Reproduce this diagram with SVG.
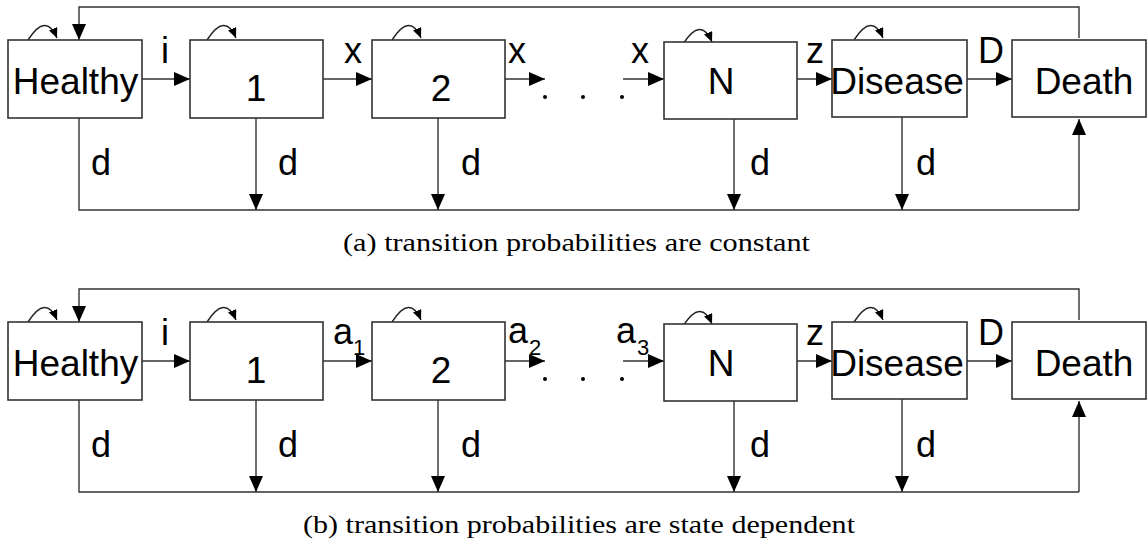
<svg xmlns="http://www.w3.org/2000/svg" width="1148" height="543" viewBox="0 0 1148 543">
<defs>
<marker id="ar" markerUnits="userSpaceOnUse" markerWidth="16" markerHeight="14" refX="16" refY="7" orient="auto" viewBox="0 0 16 14"><path d="M0,0 L16,7 L0,14 z" fill="#000"/></marker>
<marker id="sm" markerUnits="userSpaceOnUse" markerWidth="10" markerHeight="9" refX="10" refY="4.5" orient="auto" viewBox="0 0 10 9"><path d="M0,0 L10,4.5 L0,9 z" fill="#000"/></marker>
<style>
.box{fill:#fff;stroke:#333;stroke-width:1.6}
.ln{fill:none;stroke:#333;stroke-width:1.4}
.arr{fill:none;stroke:#333;stroke-width:1.4;marker-end:url(#ar)}
.loop{fill:none;stroke:#222;stroke-width:1.4;marker-end:url(#sm)}
.big{font-family:"Liberation Sans",Arial,sans-serif;font-size:37px;text-anchor:middle;fill:#000}
.lab{font-family:"Liberation Sans",Arial,sans-serif;font-size:36px;text-anchor:middle;fill:#000}
.sub{font-size:22px}
.cap{font-family:"Liberation Serif","Times New Roman",serif;font-size:25px;fill:#000}
</style>
</defs>

<!-- Panel (a) -->
<g id="panel-a">
<g id="a-connectors">
<path class="arr" d="M1079,38 V7 H79 V40"/>
<path class="ln" d="M79,118 V210 H1079"/>
<path class="arr" d="M1079,210 V119"/>
<path class="arr" d="M142,79 H190"/>
<path class="arr" d="M323,79 H372"/>
<path class="arr" d="M505,79 H545"/>
<path class="arr" d="M623,79 H664"/>
<path class="arr" d="M797,79 H832"/>
<path class="arr" d="M967,79 H1012"/>
<path class="arr" d="M256,118 V210"/>
<path class="arr" d="M438,118 V210"/>
<path class="arr" d="M734,119 V210"/>
<path class="arr" d="M902,117 V210"/>
<path class="loop" d="M28,40 Q46,12 57,38"/>
<path class="loop" d="M207,40 Q225,12 236,38"/>
<path class="loop" d="M392,40 Q410,12 421,38"/>
<path class="loop" d="M683,44 Q701,16 712,42"/>
<path class="loop" d="M854,40 Q872,12 883,38"/>
<circle cx="545" cy="97" r="2" fill="#000"/>
<circle cx="583" cy="97" r="2" fill="#000"/>
<circle cx="622" cy="97" r="2" fill="#000"/>
<text class="lab" x="165" y="63">i</text>
<text class="lab" x="353" y="63">x</text>
<text class="lab" x="517" y="63">x</text>
<text class="lab" x="640" y="63">x</text>
<text class="lab" x="815" y="63">z</text>
<text class="lab" x="991" y="63">D</text>
<text class="lab" x="101" y="175">d</text>
<text class="lab" x="288" y="175">d</text>
<text class="lab" x="471" y="175">d</text>
<text class="lab" x="760" y="175">d</text>
<text class="lab" x="926" y="175">d</text>
</g>
<g id="a-healthy"><rect class="box" x="8" y="40" width="134" height="78"/><text class="big" x="75.5" y="94">Healthy</text></g>
<g id="a-s1"><rect class="box" x="190" y="40" width="133" height="78"/><text class="big" x="256" y="101">1</text></g>
<g id="a-s2"><rect class="box" x="372" y="40" width="133" height="78"/><text class="big" x="441" y="101">2</text></g>
<g id="a-sN"><rect class="box" x="664" y="42" width="133" height="77"/><text class="big" x="721" y="94">N</text></g>
<g id="a-disease"><rect class="box" x="832" y="40" width="135" height="77"/><text class="big" x="897" y="94" font-size="32">Disease</text></g>
<g id="a-death"><rect class="box" x="1012" y="40" width="134" height="77"/><text class="big" x="1084" y="94">Death</text></g>
<text class="cap" x="343" y="251" textLength="467" lengthAdjust="spacingAndGlyphs">(a) transition probabilities are constant</text>
</g>

<!-- Panel (b) -->
<g id="panel-b" transform="translate(0,282)">
<g id="b-connectors">
<path class="arr" d="M1079,38 V7 H79 V40"/>
<path class="ln" d="M79,118 V210 H1079"/>
<path class="arr" d="M1079,210 V119"/>
<path class="arr" d="M142,79 H190"/>
<path class="arr" d="M323,79 H372"/>
<path class="arr" d="M505,79 H545"/>
<path class="arr" d="M623,79 H664"/>
<path class="arr" d="M797,79 H832"/>
<path class="arr" d="M967,79 H1012"/>
<path class="arr" d="M256,118 V210"/>
<path class="arr" d="M438,118 V210"/>
<path class="arr" d="M734,119 V210"/>
<path class="arr" d="M902,117 V210"/>
<path class="loop" d="M28,40 Q46,12 57,38"/>
<path class="loop" d="M207,40 Q225,12 236,38"/>
<path class="loop" d="M392,40 Q410,12 421,38"/>
<path class="loop" d="M683,44 Q701,16 712,42"/>
<path class="loop" d="M854,40 Q872,12 883,38"/>
<circle cx="545" cy="97" r="2" fill="#000"/>
<circle cx="583" cy="97" r="2" fill="#000"/>
<circle cx="622" cy="97" r="2" fill="#000"/>
<text class="lab" x="165" y="63">i</text>
<text class="lab" x="343" y="62">a</text><text class="lab sub" x="359" y="73">1</text>
<text class="lab" x="518" y="61">a</text><text class="lab sub" x="535" y="73">2</text>
<text class="lab" x="626" y="61">a</text><text class="lab sub" x="643" y="73">3</text>
<text class="lab" x="815" y="63">z</text>
<text class="lab" x="991" y="63">D</text>
<text class="lab" x="101" y="175">d</text>
<text class="lab" x="288" y="175">d</text>
<text class="lab" x="471" y="175">d</text>
<text class="lab" x="760" y="175">d</text>
<text class="lab" x="926" y="175">d</text>
</g>
<g id="b-healthy"><rect class="box" x="8" y="40" width="134" height="78"/><text class="big" x="75.5" y="94">Healthy</text></g>
<g id="b-s1"><rect class="box" x="190" y="40" width="133" height="78"/><text class="big" x="256" y="101">1</text></g>
<g id="b-s2"><rect class="box" x="372" y="40" width="133" height="78"/><text class="big" x="441" y="101">2</text></g>
<g id="b-sN"><rect class="box" x="664" y="42" width="133" height="77"/><text class="big" x="721" y="94">N</text></g>
<g id="b-disease"><rect class="box" x="832" y="40" width="135" height="77"/><text class="big" x="897" y="94" font-size="32">Disease</text></g>
<g id="b-death"><rect class="box" x="1012" y="40" width="134" height="77"/><text class="big" x="1084" y="94">Death</text></g>
<text class="cap" x="303" y="251" textLength="552" lengthAdjust="spacingAndGlyphs">(b) transition probabilities are state dependent</text>
</g>
</svg>
